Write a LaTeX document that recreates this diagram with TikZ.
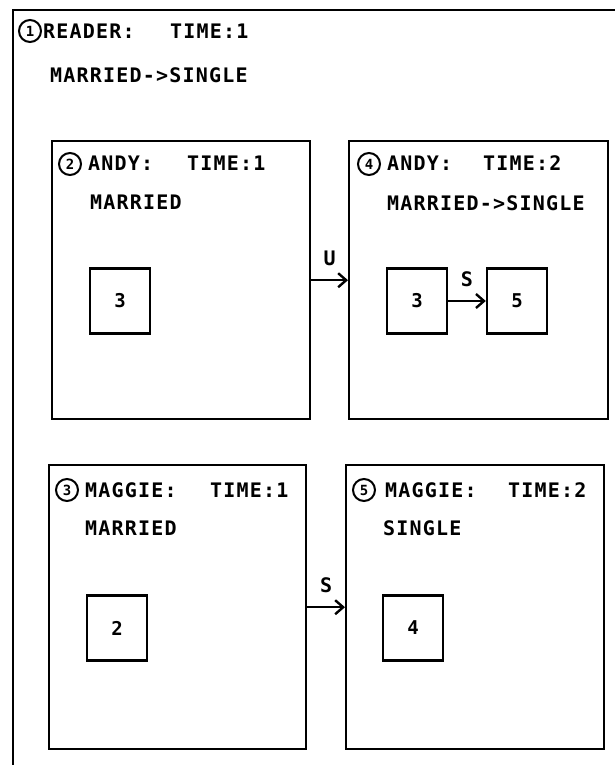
\documentclass[tikz,border=0pt]{standalone}
\usepackage{fontspec}
\newfontfamily\plotfont{DejaVu Sans Mono}[LetterSpace=6]
\newfontfamily\digitfont{DejaVu Sans Mono}
\usetikzlibrary{arrows.meta}

\tikzset{
  frame/.style={draw, line width=2.4pt, inner sep=0pt, anchor=north west},
  cell/.style={draw, line width=2.4pt, inner sep=0pt, minimum width=60pt, minimum height=65pt,
    font=\digitfont\bfseries\fontsize{19}{21}\selectfont},
  numring/.style={draw, circle, line width=2pt, inner sep=0pt, minimum size=22pt,
    font=\digitfont\bfseries\fontsize{14}{15}\selectfont},
  lbl/.style={anchor=west, inner sep=0pt, font=\plotfont\bfseries\fontsize{20}{22}\selectfont},
  tag/.style={inner sep=0pt, font=\digitfont\bfseries\fontsize{20}{22}\selectfont},
  conn/.style={->, line width=2.4pt},
}

\begin{document}
\begin{tikzpicture}[x=1pt, y=-1pt, >={Straight Barb[length=8pt, width=14pt]}]
    \clip (0,0) rectangle (615,765);

    % Reader frame
    \node[frame, minimum width=700pt, minimum height=850pt] (reader) at (12,9) {};
    \node[numring] (readernum) at (30,31) {1};
    \node[lbl] (readername) at (43,31) {READER:};
    \node[lbl] (readertime) at (170,31) {TIME:1};
    \node[lbl] (readerstate) at (50,75) {MARRIED->SINGLE};

    % Andy, time 1
    \node[frame, minimum width=258pt, minimum height=278pt] (andyA) at (51,140) {};
    \node[numring] (andyAnum) at (70,164) {2};
    \node[lbl] (andyAname) at (88,163) {ANDY:};
    \node[lbl] (andyAtime) at (187,163) {TIME:1};
    \node[lbl] (andyAstate) at (90,202) {MARRIED};
    \node[cell] (andyAcell) at (120,301) {3};

    % Andy, time 2
    \node[frame, minimum width=259pt, minimum height=278pt] (andyB) at (348,140) {};
    \node[numring] (andyBnum) at (369,164) {4};
    \node[lbl] (andyBname) at (387,163) {ANDY:};
    \node[lbl] (andyBtime) at (483,163) {TIME:2};
    \node[lbl] (andyBstate) at (387,203) {MARRIED->SINGLE};
    \node[cell] (andyBcellA) at (417,301) {3};
    \node[cell] (andyBcellB) at (517,301) {5};

    % Maggie, time 1
    \node[frame, minimum width=257pt, minimum height=284pt] (maggieA) at (48,464) {};
    \node[numring] (maggieAnum) at (67,490) {3};
    \node[lbl] (maggieAname) at (85,490) {MAGGIE:};
    \node[lbl] (maggieAtime) at (210,490) {TIME:1};
    \node[lbl] (maggieAstate) at (85,528) {MARRIED};
    \node[cell] (maggieAcell) at (117,628) {2};

    % Maggie, time 2
    \node[frame, minimum width=258pt, minimum height=284pt] (maggieB) at (345,464) {};
    \node[numring] (maggieBnum) at (364,490) {5};
    \node[lbl] (maggieBname) at (385,490) {MAGGIE:};
    \node[lbl] (maggieBtime) at (508,490) {TIME:2};
    \node[lbl] (maggieBstate) at (383,528) {SINGLE};
    \node[cell] (maggieBcell) at (413,628) {4};

    % Transitions
    \draw[conn] (andyA) -- (andyB) node[tag, midway, above=13pt] {U};
    \draw[conn] (andyBcellA) -- (andyBcellB) node[tag, midway, above=13pt] {S};
    \draw[conn] (maggieA) -- (maggieB) node[tag, midway, above=13pt] {S};
\end{tikzpicture}
\end{document}
